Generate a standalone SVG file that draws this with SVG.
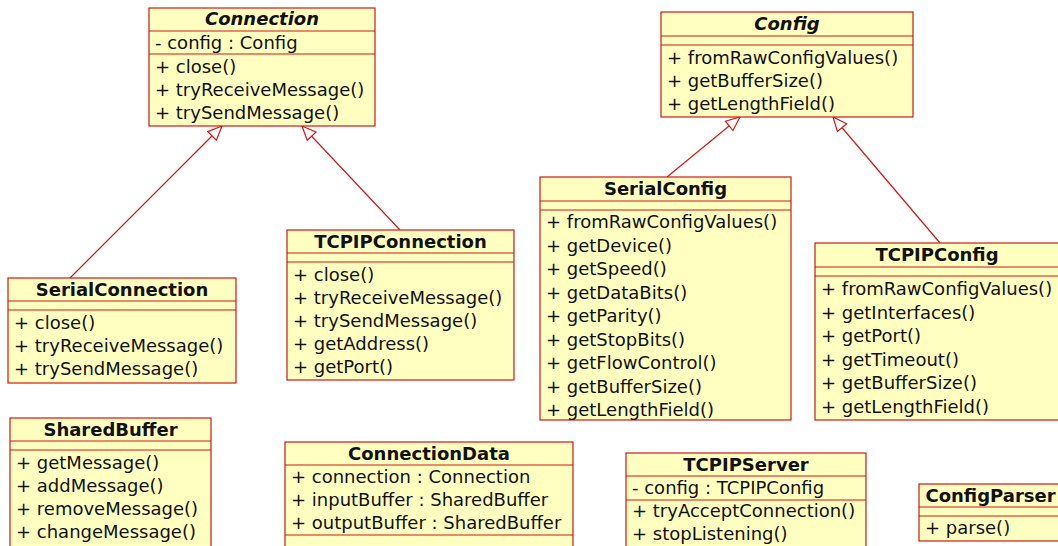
<svg xmlns="http://www.w3.org/2000/svg" width="1058" height="546" viewBox="0 0 1058 546">
<style>
.box{fill:#ffffc0;stroke:#d01818;stroke-width:1.2}
.sep{stroke:#d01818;stroke-width:1.2}
text{font-family:"DejaVu Sans","Verdana",sans-serif;font-size:18px;fill:#111}
.n{font-weight:bold;text-anchor:middle}
.a{font-style:italic}
.con{stroke:#d01818;stroke-width:1.2;fill:none;marker-end:url(#gen)}
</style>
<defs>
<marker id="gen" markerUnits="userSpaceOnUse" markerWidth="16" markerHeight="14" viewBox="0 0 16 14" refX="15" refY="7" orient="auto">
<path d="M1,1 L15,7 L1,13 Z" fill="#ffffff" stroke="#d01818" stroke-width="1.2"/>
</marker>
</defs>
<rect width="1058" height="546" fill="#ffffff"/>
<g id="connectors">
<line class="con" x1="70" y1="278" x2="222" y2="126"/>
<line class="con" x1="400" y1="230" x2="302" y2="126"/>
<line class="con" x1="667" y1="177" x2="740" y2="117"/>
<line class="con" x1="940" y1="243" x2="833" y2="117"/>
</g>
<g id="Connection">
<rect class="box" x="149" y="8" width="226" height="118"/>
<line class="sep" x1="149" y1="31" x2="375" y2="31"/>
<line class="sep" x1="149" y1="54" x2="375" y2="54"/>
<text class="n a" x="262" y="25">Connection</text>
<text x="155" y="49">- config : Config</text>
<text x="155" y="73">+ close()</text>
<text x="155" y="96">+ tryReceiveMessage()</text>
<text x="155" y="119">+ trySendMessage()</text>
</g>
<g id="Config">
<rect class="box" x="661" y="12" width="252" height="105"/>
<line class="sep" x1="661" y1="36" x2="913" y2="36"/>
<line class="sep" x1="661" y1="45" x2="913" y2="45"/>
<text class="n a" x="787" y="30">Config</text>
<text x="667" y="64">+ fromRawConfigValues()</text>
<text x="667" y="87">+ getBufferSize()</text>
<text x="667" y="110">+ getLengthField()</text>
</g>
<g id="SerialConnection">
<rect class="box" x="8" y="278" width="228" height="105"/>
<line class="sep" x1="8" y1="301" x2="236" y2="301"/>
<line class="sep" x1="8" y1="310" x2="236" y2="310"/>
<text class="n" x="122" y="296">SerialConnection</text>
<text x="14" y="329">+ close()</text>
<text x="14" y="352">+ tryReceiveMessage()</text>
<text x="14" y="375">+ trySendMessage()</text>
</g>
<g id="TCPIPConnection">
<rect class="box" x="287" y="230" width="227" height="150"/>
<line class="sep" x1="287" y1="253" x2="514" y2="253"/>
<line class="sep" x1="287" y1="262" x2="514" y2="262"/>
<text class="n" x="400.5" y="248">TCPIPConnection</text>
<text x="293" y="281">+ close()</text>
<text x="293" y="304">+ tryReceiveMessage()</text>
<text x="293" y="327">+ trySendMessage()</text>
<text x="293" y="350">+ getAddress()</text>
<text x="293" y="373">+ getPort()</text>
</g>
<g id="SerialConfig">
<rect class="box" x="540" y="177" width="251" height="243"/>
<line class="sep" x1="540" y1="201" x2="791" y2="201"/>
<line class="sep" x1="540" y1="210" x2="791" y2="210"/>
<text class="n" x="665.5" y="195">SerialConfig</text>
<text x="546" y="228">+ fromRawConfigValues()</text>
<text x="546" y="251.5">+ getDevice()</text>
<text x="546" y="275">+ getSpeed()</text>
<text x="546" y="298.5">+ getDataBits()</text>
<text x="546" y="322">+ getParity()</text>
<text x="546" y="345.5">+ getStopBits()</text>
<text x="546" y="369">+ getFlowControl()</text>
<text x="546" y="392.5">+ getBufferSize()</text>
<text x="546" y="416">+ getLengthField()</text>
</g>
<g id="TCPIPConfig">
<rect class="box" x="815" y="243" width="244" height="177"/>
<line class="sep" x1="815" y1="267" x2="1059" y2="267"/>
<line class="sep" x1="815" y1="276" x2="1059" y2="276"/>
<text class="n" x="937" y="261">TCPIPConfig</text>
<text x="821" y="295">+ fromRawConfigValues()</text>
<text x="821" y="318.5">+ getInterfaces()</text>
<text x="821" y="342">+ getPort()</text>
<text x="821" y="365.5">+ getTimeout()</text>
<text x="821" y="389">+ getBufferSize()</text>
<text x="821" y="412.5">+ getLengthField()</text>
</g>
<g id="SharedBuffer">
<rect class="box" x="10" y="418" width="201" height="140"/>
<line class="sep" x1="10" y1="441" x2="211" y2="441"/>
<line class="sep" x1="10" y1="450" x2="211" y2="450"/>
<text class="n" x="110.5" y="436">SharedBuffer</text>
<text x="16" y="469">+ getMessage()</text>
<text x="16" y="492">+ addMessage()</text>
<text x="16" y="515">+ removeMessage()</text>
<text x="16" y="538">+ changeMessage()</text>
</g>
<g id="ConnectionData">
<rect class="box" x="285" y="442" width="288" height="120"/>
<line class="sep" x1="285" y1="465" x2="573" y2="465"/>
<line class="sep" x1="285" y1="535" x2="573" y2="535"/>
<text class="n" x="429" y="460">ConnectionData</text>
<text x="291" y="483">+ connection : Connection</text>
<text x="291" y="506">+ inputBuffer : SharedBuffer</text>
<text x="291" y="529">+ outputBuffer : SharedBuffer</text>
</g>
<g id="TCPIPServer">
<rect class="box" x="626" y="453" width="240" height="110"/>
<line class="sep" x1="626" y1="476" x2="866" y2="476"/>
<line class="sep" x1="626" y1="500" x2="866" y2="500"/>
<text class="n" x="746" y="471">TCPIPServer</text>
<text x="632" y="494">- config : TCPIPConfig</text>
<text x="632" y="517">+ tryAcceptConnection()</text>
<text x="632" y="540">+ stopListening()</text>
</g>
<g id="ConfigParser">
<rect class="box" x="919" y="484" width="143" height="57"/>
<line class="sep" x1="919" y1="507" x2="1062" y2="507"/>
<line class="sep" x1="919" y1="516" x2="1062" y2="516"/>
<text class="n" x="990.5" y="502">ConfigParser</text>
<text x="925" y="534">+ parse()</text>
</g>
</svg>
